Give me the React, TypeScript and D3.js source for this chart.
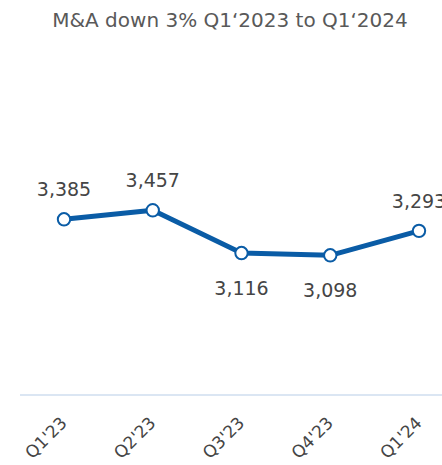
import React from 'react';
import * as d3 from 'd3';

const quarters = ["Q1'23", "Q2'23", "Q3'23", "Q4'23", "Q1'24"];
const deals = [3385, 3457, 3116, 3098, 3293];
const labelBelow = [false, false, true, true, false];
const title = 'M&A down 3% Q1‘2023 to Q1‘2024';

const width = 442;
const height = 465;
const blue = '#0a5ca6';
const font = '"DejaVu Sans", sans-serif';

export default function App() {
  const x = d3.scalePoint<string>().domain(quarters).range([64, 419]);
  const y = d3.scaleLinear().domain([2000, 4000]).range([393, 142.2]);

  const line = d3.line<number>()
    .x((d, i) => x(quarters[i]) as number)
    .y(d => y(d));

  const fmt = d3.format(',');

  return (
    <svg width={width} height={height} style={{ position: 'absolute', left: 0, top: 0 }}>
      <rect x={0} y={0} width={width} height={height} fill='#ffffff' />

      {/* title */}
      <text x={230} y={27} textAnchor='middle' fontFamily={font} fontSize={20} fill='#595959'>
        {title}
      </text>

      {/* baseline */}
      <line x1={20} x2={width} y1={395} y2={395} stroke='#dbe6f3' strokeWidth={2} />

      {/* series */}
      <path d={line(deals) || ''} fill='none' stroke={blue} strokeWidth={5} strokeLinejoin='round' />
      {deals.map((d, i) => (
        <circle key={i} cx={x(quarters[i])} cy={y(d)} r={6.2} fill='#ffffff' stroke={blue} strokeWidth={2} />
      ))}

      {/* value labels */}
      {deals.map((d, i) => (
        <text
          key={i}
          x={x(quarters[i])}
          y={y(d) + (labelBelow[i] ? 42 : -23)}
          textAnchor='middle'
          fontFamily={font}
          fontSize={19}
          fill='#454545'
        >
          {fmt(d)}
        </text>
      ))}

      {/* category labels */}
      {quarters.map(q => (
        <text
          key={q}
          transform={`translate(${(x(q) as number) + 4},${424}) rotate(-45)`}
          textAnchor='end'
          fontFamily={font}
          fontSize={17}
          fill='#454545'
        >
          {q}
        </text>
      ))}
    </svg>
  );
}
